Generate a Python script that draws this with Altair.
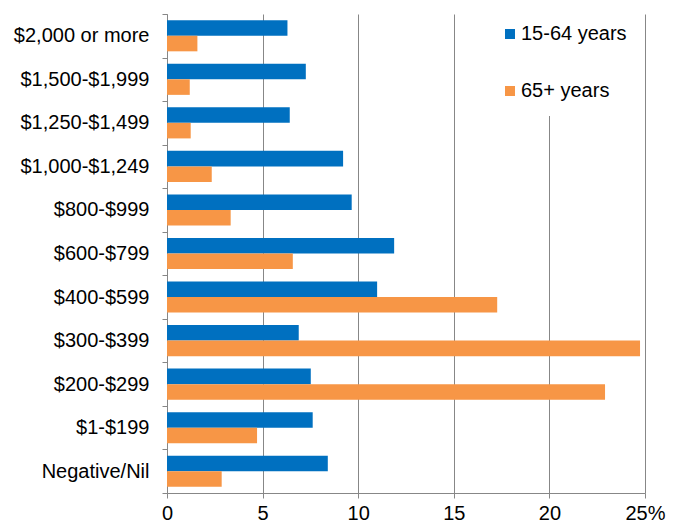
import altair as alt
import pandas as pd

categories = ["$2,000 or more", "$1,500-$1,999", "$1,250-$1,499", "$1,000-$1,249",
              "$800-$999", "$600-$799", "$400-$599", "$300-$399", "$200-$299",
              "$1-$199", "Negative/Nil"]
series = ["15-64 years", "65+ years"]
values_15_64 = [6.30, 7.26, 6.42, 9.21, 9.66, 11.88, 10.99, 6.89, 7.52, 7.62, 8.41]
values_65 = [1.59, 1.19, 1.24, 2.34, 3.33, 6.58, 17.27, 24.74, 22.91, 4.71, 2.86]
colors = ["#0070C0", "#F79646"]
x_ticks = [0, 5, 10, 15, 20, 25]

rows = []
for c, a, b in zip(categories, values_15_64, values_65):
    rows.append({"cat": c, "series": series[0], "value": a})
    rows.append({"cat": c, "series": series[1], "value": b})
df = pd.DataFrame(rows)

FONT = "Liberation Sans"
GRID = "#878787"

chart = alt.Chart(df).mark_bar().encode(
    x=alt.X("value:Q",
            scale=alt.Scale(domain=[0, 25], nice=False),
            axis=alt.Axis(values=x_ticks, title=None, grid=True, gridColor=GRID,
                          gridWidth=1, domainColor=GRID, tickColor=GRID, tickSize=5,
                          labelFontSize=20, labelFont=FONT, labelColor="black",
                          labelPadding=5, labelFlush=False,
                          labelExpr="datum.value == 25 ? '25%' : datum.label")),
    y=alt.Y("cat:N", sort=categories,
            scale=alt.Scale(paddingInner=0, paddingOuter=0),
            axis=alt.Axis(title=None, tickBand="extent", domainColor=GRID,
                          tickColor=GRID, tickSize=5, labelFontSize=20,
                          labelFont=FONT, labelColor="black", labelPadding=13,
                          labelLimit=300)),
    yOffset=alt.YOffset("series:N", sort=series,
                        scale=alt.Scale(paddingInner=0, paddingOuter=0.4)),
    color=alt.Color("series:N", sort=series,
                    scale=alt.Scale(domain=series, range=colors),
                    legend=alt.Legend(orient="none", legendX=318, legendY=-5,
                                      title=None, symbolType="square",
                                      symbolSize=100, labelFontSize=20,
                                      labelFont=FONT, labelColor="black",
                                      labelOffset=1,
                                      rowPadding=37, padding=15,
                                      fillColor="white")),
).properties(
    width=478, height=479,
    autosize=alt.AutoSizeParams(type="none"),
    padding={"left": 159, "top": 6, "right": 24, "bottom": 32},
).configure_view(strokeWidth=0)

chart.save("out.html", embed_options={"renderer": "svg", "actions": False})
